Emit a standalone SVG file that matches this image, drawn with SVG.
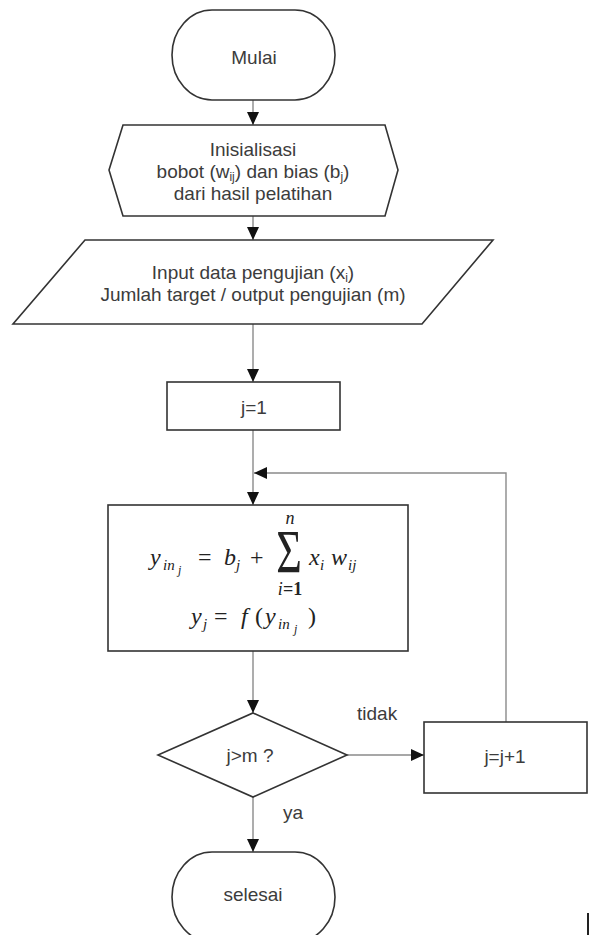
<svg xmlns="http://www.w3.org/2000/svg" width="591" height="935" viewBox="0 0 591 935">
<defs>
<marker id="ah" markerUnits="userSpaceOnUse" markerWidth="13" markerHeight="12" refX="13" refY="6" orient="auto">
<path d="M0,0 L13,6 L0,12 z" fill="#111"/>
</marker>
<style>
.shape{fill:#fff;stroke:#333;stroke-width:1.6}
.conn{fill:none;stroke:#8a8a8a;stroke-width:1.4;marker-end:url(#ah)}
.t{font-family:"Liberation Sans",Arial,sans-serif;font-size:19px;fill:#3c3c3c;text-anchor:middle}
.lbl{font-family:"Liberation Sans",Arial,sans-serif;font-size:19px;fill:#3c3c3c}
.m{font-family:"Liberation Serif","Times New Roman",serif;font-size:24px;fill:#222;font-style:italic}
.mu{font-style:normal}
.s1{font-size:15px}
.s2{font-size:12px}
</style>
</defs>
<rect width="591" height="935" fill="#fff"/>

<g id="connectors">
<path class="conn" d="M253,100 V125"/>
<path class="conn" d="M253,216 V240"/>
<path class="conn" d="M253,324 V382"/>
<path class="conn" d="M253,430 V505"/>
<path class="conn" d="M506,722 V473 H254"/>
<path class="conn" d="M253,651 V713"/>
<path class="conn" d="M347,755 H424"/>
<path class="conn" d="M253,797 V852"/>
<text class="lbl" x="357" y="720">tidak</text>
<text class="lbl" x="283" y="819">ya</text>
</g>

<g id="mulai">
<rect class="shape" x="172" y="10" width="163" height="90" rx="40" ry="45"/>
<text class="t" x="254" y="64">Mulai</text>
</g>

<g id="inisialisasi">
<polygon class="shape" points="123,125 385,125 398,170 385,216 123,216 109,170"/>
<text class="t" x="253" y="156">Inisialisasi</text>
<text class="t" x="253" y="178">bobot (w<tspan class="s2" dy="3">ij</tspan><tspan dy="-3">) dan bias (b</tspan><tspan class="s2" dy="3">j</tspan><tspan dy="-3">)</tspan></text>
<text class="t" x="253" y="200">dari hasil pelatihan</text>
</g>

<g id="input">
<polygon class="shape" points="85,240 493,240 422,324 13,324"/>
<text class="t" x="253" y="279">Input data pengujian (x<tspan class="s2" dy="3">i</tspan><tspan dy="-3">)</tspan></text>
<text class="t" x="253" y="301">Jumlah target / output pengujian (m)</text>
</g>

<g id="j1">
<rect class="shape" x="167" y="382" width="173" height="48"/>
<text class="t" x="254" y="414">j=1</text>
</g>

<g id="hitung">
<rect class="shape" x="108" y="505" width="300" height="146"/>
<text class="m" y="565"><tspan x="150">y</tspan><tspan class="s1" x="163" y="570">in</tspan><tspan class="s2" x="178" y="574">j</tspan><tspan class="mu" x="198" y="565">=</tspan><tspan x="224" y="565">b</tspan><tspan class="s1" x="236" y="570">j</tspan><tspan class="mu" x="250" y="565">+</tspan><tspan x="309" y="565">x</tspan><tspan class="s1" x="320" y="570">i</tspan><tspan x="331" y="565">w</tspan><tspan class="s1" x="348" y="570">ij</tspan></text>
<text class="m mu" style="font-size:44px" text-anchor="middle" transform="translate(289,572) scale(1,1.4)">Σ</text>
<text class="m" style="font-size:18px" x="290" y="524" text-anchor="middle">n</text>
<text class="m" style="font-size:18px" x="290" y="595" text-anchor="middle">i<tspan class="mu" font-weight="bold">=1</tspan></text>
<text class="m" y="624"><tspan x="191">y</tspan><tspan class="s1" x="203" y="629">j</tspan><tspan class="mu" x="214" y="624">=</tspan><tspan x="241" y="624">f</tspan><tspan class="mu" x="255" y="624">(</tspan><tspan x="265" y="624">y</tspan><tspan class="s1" x="278" y="629">in</tspan><tspan class="s2" x="294" y="633">j</tspan><tspan class="mu" x="308" y="624">)</tspan></text>
</g>

<g id="cek">
<polygon class="shape" points="253,713 347,755 253,797 158,755"/>
<text class="t" x="250" y="762">j&gt;m ?</text>
</g>

<g id="increment">
<rect class="shape" x="424" y="722" width="163" height="71"/>
<text class="t" x="505" y="763">j=j+1</text>
</g>

<g id="selesai">
<rect class="shape" x="172" y="852" width="163" height="90" rx="40" ry="45"/>
<text class="t" x="253" y="901">selesai</text>
</g>

<line x1="588" y1="913" x2="588" y2="935" stroke="#222" stroke-width="2"/>
</svg>
